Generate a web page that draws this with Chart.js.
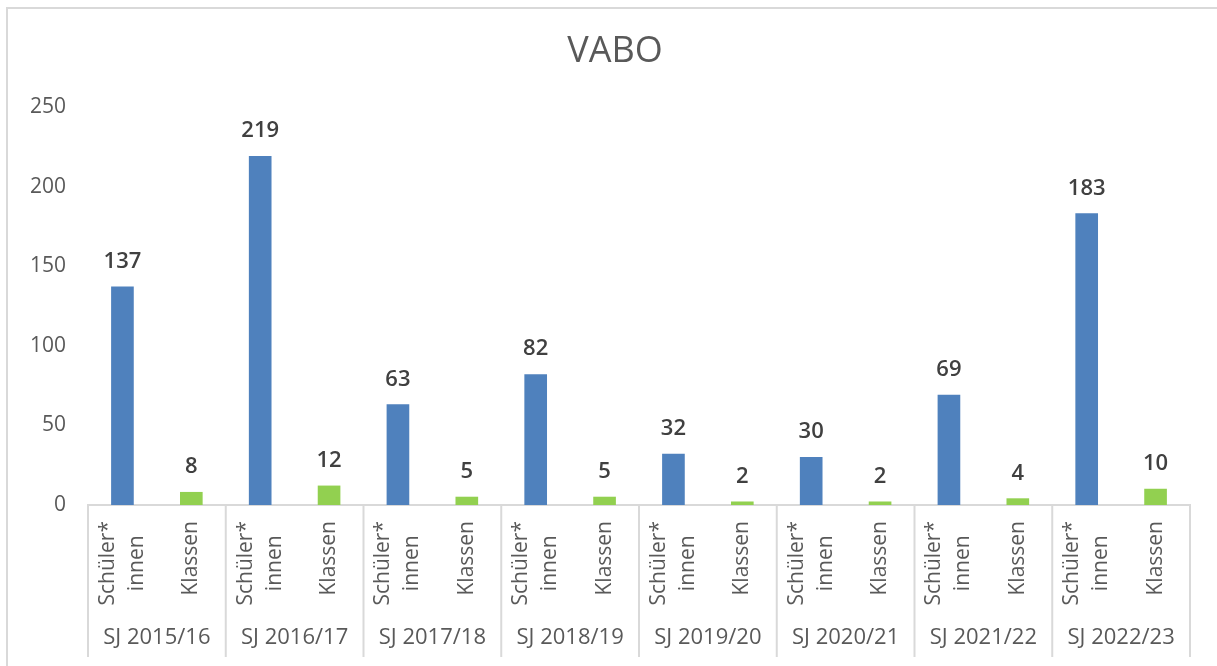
<!DOCTYPE html>
<html>
<head>
<meta charset="utf-8">
<script src="https://cdn.jsdelivr.net/npm/chart.js@4"></script>
<style>
  html, body { margin: 0; padding: 0; background: #fff; }
  #wrap { width: 1217px; height: 666px; }
</style>
</head>
<body>
<div id="wrap"><canvas id="vaboChart"></canvas></div>
<script>
// Schuljahre und Werte
const title = "VABO";
const years = ["SJ 2015/16", "SJ 2016/17", "SJ 2017/18", "SJ 2018/19", "SJ 2019/20", "SJ 2020/21", "SJ 2021/22", "SJ 2022/23"];
const subLabels = [["Schüler*", "innen"], ["Klassen"]];
const schueler = [137, 219, 63, 82, 32, 30, 69, 183];
const klassen = [8, 12, 5, 5, 2, 2, 4, 10];
const yTicks = [0, 50, 100, 150, 200, 250];

const FONT = "'Open Sans', 'Noto Sans', sans-serif";
const GRAY = "#d9d9d9";
const TEXT = "#595959";

// zwei Kategorien pro Schuljahr
const labels = [];
const dataSchueler = [];
const dataKlassen = [];
years.forEach((y, i) => {
  labels.push(subLabels[0], subLabels[1]);
  dataSchueler.push(schueler[i], null);
  dataKlassen.push(null, klassen[i]);
});

// Rahmen, Hintergrund, Titel
const framePlugin = {
  id: "frame",
  beforeDraw(chart) {
    const c = chart.ctx;
    c.save();
    c.fillStyle = "#fff";
    c.fillRect(0, 0, chart.width, chart.height);
    c.strokeStyle = GRAY;
    c.lineWidth = 2;
    c.beginPath();
    c.moveTo(7, chart.height);
    c.lineTo(7, 8);
    c.lineTo(chart.width, 8);
    c.stroke();
    c.fillStyle = TEXT;
    c.font = "36px " + FONT;
    c.textAlign = "center";
    c.textBaseline = "middle";
    c.fillText(title, 615, 52);
    c.restore();
  }
};

// Kategorien, Trennlinien und Schuljahre unter der Achse
const groupPlugin = {
  id: "groups",
  afterDraw(chart) {
    const x = chart.scales.x;
    const c = chart.ctx;
    const bottom = chart.chartArea.bottom;
    const half = (x.getPixelForValue(1) - x.getPixelForValue(0)) / 2;
    c.save();
    c.strokeStyle = GRAY;
    c.lineWidth = 2;
    for (let g = 0; g <= years.length; g++) {
      const px = g < years.length ? x.getPixelForValue(2 * g) - half : x.getPixelForValue(2 * g - 1) + half;
      c.beginPath();
      c.moveTo(px, bottom);
      c.lineTo(px, bottom + 152);
      c.stroke();
    }

    c.fillStyle = TEXT;
    c.font = "21px " + FONT;
    c.textAlign = "center";
    c.textBaseline = "middle";
    const lh = 29;
    labels.forEach((lines, i) => {
      const px = x.getPixelForValue(i);
      const w = Math.max(...lines.map(l => c.measureText(l).width));
      c.save();
      c.translate(px, bottom + 16);
      c.rotate(-Math.PI / 2);
      lines.forEach((l, j) => {
        c.fillText(l, -w / 2, (j - (lines.length - 1) / 2) * lh);
      });
      c.restore();
    });

    c.font = "22px " + FONT;
    years.forEach((y, g) => {
      const cx = (x.getPixelForValue(2 * g) + x.getPixelForValue(2 * g + 1)) / 2;
      c.fillText(y, cx, bottom + 133);
    });
    c.restore();
  }
};

// Werte über den Balken
const valuePlugin = {
  id: "values",
  afterDatasetsDraw(chart) {
    const c = chart.ctx;
    c.save();
    c.fillStyle = "#404040";
    c.font = "600 22px " + FONT;
    c.textAlign = "center";
    c.textBaseline = "alphabetic";
    chart.data.datasets.forEach((ds, di) => {
      chart.getDatasetMeta(di).data.forEach((bar, i) => {
        if (ds.data[i] == null) return;
        c.fillText(ds.data[i], bar.x, bar.y - 19);
      });
    });
    c.restore();
  }
};

const ctx = document.getElementById("vaboChart");
new Chart(ctx, {
  type: "bar",
  data: {
    labels: labels,
    datasets: [{
      label: "Schüler*innen",
      data: dataSchueler,
      backgroundColor: "#4f81bd",
      grouped: false,
      barThickness: 22
    }, {
      label: "Klassen",
      data: dataKlassen,
      backgroundColor: "#92d050",
      grouped: false,
      barThickness: 22
    }]
  },
  options: {
    responsive: true,
    maintainAspectRatio: false,
    animation: false,
    layout: { padding: { top: 107, left: 0, right: 27, bottom: 9 } },
    plugins: {
      legend: { display: false },
      tooltip: { enabled: false },
      title: { display: false }
    },
    scales: {
      x: {
        grid: { display: false, drawTicks: false },
        border: { display: true, color: GRAY, width: 2 },
        ticks: { display: false },
        afterFit(scale) { scale.height = 152; }
      },
      y: {
        min: 0,
        max: 250,
        afterBuildTicks(scale) { scale.ticks = yTicks.map(v => ({ value: v })); },
        grid: { display: false, drawTicks: false },
        border: { display: false },
        ticks: {
          padding: 22,
          color: TEXT,
          font: { family: FONT, size: 21 }
        },
        afterFit(scale) { scale.width = 88; }
      }
    }
  },
  plugins: [framePlugin, groupPlugin, valuePlugin]
});
</script>
</body>
</html>
